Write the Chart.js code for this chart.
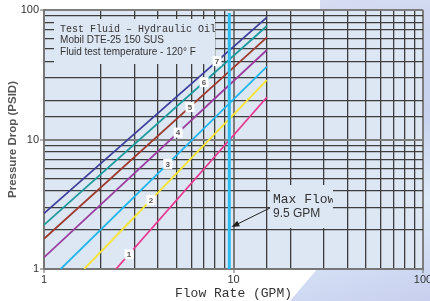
<!DOCTYPE html>
<html><head><meta charset="utf-8">
<script src="https://cdn.jsdelivr.net/npm/chart.js@4.4.1/dist/chart.umd.min.js"></script>
<style>
html,body{margin:0;padding:0;background:#fff;}
#wrap{position:relative;width:430px;height:301px;overflow:hidden;}
#deco{position:absolute;left:0;top:0;width:430px;height:301px;
 background:linear-gradient(165deg,#e3e6f5 0%,#cdd6f0 35%,#c6d2ee 55%,#dbe9f8 75%,#c8cfee 100%);
 clip-path:polygon(320px 0,430px 0,430px 301px,290px 301px,318px 268px);}
canvas{position:absolute;left:0;top:0;}
</style></head><body>
<div id="wrap"><div id="deco"></div><canvas id="c" width="430" height="301"></canvas></div>
<script>
// ---- data ----
const curveNames = ['1','2','3','4','5','6','7'];
const flowStart  = [2.40, 1.63, 1.225, 1, 1, 1, 1];
const flowEnd    = [15, 15, 15, 15, 15, 15, 15];
const dropStart  = [1, 1, 1, 1.23, 1.71, 2.19, 2.69];
const dropEnd    = [21.2, 28.8, 36.5, 49.1, 61.5, 75.2, 87.8];
const labelFlow  = [2.81, 3.67, 4.50, 5.10, 5.89, 6.99, 8.18];
const maxFlow = 9.5;
const maxFlowDrop = [1, 95];
const xTickLabels = [1, 10, 100];
const yTickLabels = [1, 10, 100];
const noteLines = ['Test Fluid \u2013 Hydraulic Oil', 'Mobil DTE-25 150 SUS', 'Fluid test temperature - 120\u00B0 F'];
const maxFlowNote = ['Max Flow', '9.5 GPM'];

// ---- styles ----
const curveColors = ['#e8388f','#f7e433','#22b6ea','#9a3d9e','#9e3a2e','#1d9a9c','#3d3f9a'];
const plotBg = '#dde7f4';
const SANS = "'Liberation Sans', Arial, sans-serif";
const MONO = "'Liberation Mono', 'Courier New', monospace";

const isDecade = v => Math.abs(Math.log10(v) - Math.round(Math.log10(v))) < 1e-6;
const hasLabel = (arr, v) => arr.some(a => Math.abs(a - v) < 1e-6 * a);

const datasets = [{
  label: 'Max Flow',
  data: maxFlowDrop.map(y => ({x: maxFlow, y})),
  borderColor: '#2bbbef', borderWidth: 3, showLine: true, pointRadius: 0, order: 0
}];
curveNames.forEach((n, i) => {
  datasets.push({
    label: n,
    data: [{x: flowStart[i], y: dropStart[i]}, {x: flowEnd[i], y: dropEnd[i]}],
    borderColor: curveColors[i], borderWidth: 1.8, showLine: true, pointRadius: 0, order: 1
  });
});

function logInterp(i, x) {
  const lx0 = Math.log10(flowStart[i]), lx1 = Math.log10(flowEnd[i]);
  const ly0 = Math.log10(dropStart[i]), ly1 = Math.log10(dropEnd[i]);
  const t = (Math.log10(x) - lx0) / (lx1 - lx0);
  return Math.pow(10, ly0 + t * (ly1 - ly0));
}

const bgPlugin = {
  id: 'plotbg',
  beforeDraw(chart) {
    const {ctx, chartArea: a} = chart;
    ctx.save(); ctx.fillStyle = plotBg;
    ctx.fillRect(a.left, a.top, a.right - a.left, a.bottom - a.top);
    ctx.restore();
  }
};

function drawBox(ctx, x0, y0, x1, y1, fn) {
  ctx.save();
  ctx.fillStyle = plotBg;
  ctx.fillRect(x0, y0, x1 - x0, y1 - y0);
  ctx.beginPath(); ctx.rect(x0, y0, x1 - x0, y1 - y0); ctx.clip();
  fn();
  ctx.restore();
}

const notesPlugin = {
  id: 'notes',
  beforeDatasetsDraw(chart) {
    const {ctx, scales: {x, y}} = chart;
    // fluid box
    const bx0 = x.getPixelForValue(1.13), bx1 = x.getPixelForValue(7.99);
    const by0 = y.getPixelForValue(85.2), by1 = y.getPixelForValue(38.3);
    drawBox(ctx, bx0, by0, bx1, by1, () => {
      ctx.fillStyle = '#333'; ctx.textBaseline = 'middle'; ctx.textAlign = 'left';
      ctx.font = '10px ' + MONO;
      ctx.fillText(noteLines[0], bx0 + 6, by0 + 10);
      ctx.font = '10px ' + SANS;
      ctx.fillText(noteLines[1], bx0 + 6, by0 + 21.7);
      ctx.fillText(noteLines[2], bx0 + 6, by0 + 33.3);
    });
    // max flow box
    const mx0 = x.getPixelForValue(15.58), mx1 = x.getPixelForValue(33.5);
    const my0 = y.getPixelForValue(4.45), my1 = y.getPixelForValue(2.07);
    drawBox(ctx, mx0, my0, mx1, my1, () => {
      ctx.fillStyle = '#333'; ctx.textBaseline = 'middle'; ctx.textAlign = 'left';
      ctx.font = '13px ' + MONO;
      ctx.fillText(maxFlowNote[0], mx0 + 3, my0 + 14.5);
      ctx.font = '12px ' + SANS;
      ctx.fillText(maxFlowNote[1], mx0 + 3, my0 + 29);
    });
  },
  afterDatasetsDraw(chart) {
    const {ctx, scales: {x, y}} = chart;
    // curve number labels
    ctx.save();
    ctx.font = 'bold 8px ' + SANS;
    ctx.textAlign = 'center'; ctx.textBaseline = 'middle';
    curveNames.forEach((n, i) => {
      const px = x.getPixelForValue(labelFlow[i]);
      const py = y.getPixelForValue(logInterp(i, labelFlow[i]));
      ctx.fillStyle = '#fff';
      ctx.fillRect(px - 4.5, py - 5, 9, 10);
      ctx.fillStyle = '#555';
      ctx.fillText(n, px, py + 0.5);
    });
    // arrow
    const sx = x.getPixelForValue(15.58), sy = y.getPixelForValue(2.96);
    const tx = x.getPixelForValue(9.75), ty = y.getPixelForValue(2.11);
    const ang = Math.atan2(ty - sy, tx - sx);
    ctx.strokeStyle = '#222'; ctx.fillStyle = '#222'; ctx.lineWidth = 1;
    ctx.beginPath(); ctx.moveTo(sx, sy);
    ctx.lineTo(tx - 6 * Math.cos(ang), ty - 6 * Math.sin(ang)); ctx.stroke();
    ctx.beginPath();
    ctx.moveTo(tx, ty);
    ctx.lineTo(tx - 8 * Math.cos(ang) + 3 * Math.sin(ang), ty - 8 * Math.sin(ang) - 3 * Math.cos(ang));
    ctx.lineTo(tx - 8 * Math.cos(ang) - 3 * Math.sin(ang), ty - 8 * Math.sin(ang) + 3 * Math.cos(ang));
    ctx.closePath(); ctx.fill();
    ctx.restore();
  }
};

const gridOpts = {
  color: c => (c.tick && isDecade(c.tick.value)) ? '#7d7d7d' : '#3d3d3d',
  lineWidth: c => (c.tick && isDecade(c.tick.value)) ? 2 : 1.3,
  tickColor: c => (c.tick && isDecade(c.tick.value)) ? '#666' : 'rgba(0,0,0,0)',
  tickWidth: 1,
  tickLength: 4,
  drawTicks: true
};

new Chart(document.getElementById('c'), {
  type: 'scatter',
  data: {datasets},
  options: {
    responsive: false, animation: false, devicePixelRatio: 1,
    layout: {padding: {top: 10, right: 7, left: 0, bottom: 0}},
    plugins: {legend: {display: false}, tooltip: {enabled: false}},
    scales: {
      x: {
        type: 'logarithmic', min: 1, max: 100,
        grid: gridOpts,
        border: {color: '#777', width: 2},
        ticks: {autoSkip: false, maxRotation: 0, padding: 0, color: '#333',
          font: {family: SANS, size: 11},
          callback: v => hasLabel(xTickLabels, v) ? String(v) : ''},
        title: {display: true, text: 'Flow Rate (GPM)', color: '#333',
          font: {family: MONO, size: 13}, padding: {top: 0, bottom: 0}},
        afterFit: s => { s.height = 32; s.paddingLeft = 0; s.paddingRight = 0; }
      },
      y: {
        type: 'logarithmic', min: 1, max: 100,
        grid: gridOpts,
        border: {color: '#777', width: 2},
        ticks: {autoSkip: false, padding: 1, color: '#333',
          font: {family: SANS, size: 11},
          callback: v => hasLabel(yTickLabels, v) ? String(v) : ''},
        title: {display: true, text: 'Pressure Drop (PSID)', color: '#555',
          font: {family: SANS, size: 11.5, weight: 'bold'}, padding: {top: 6, bottom: 0}},
        afterFit: s => { s.width = 44; s.paddingTop = 0; s.paddingBottom = 0; }
      }
    }
  },
  plugins: [bgPlugin, notesPlugin]
});
</script>
</body></html>
